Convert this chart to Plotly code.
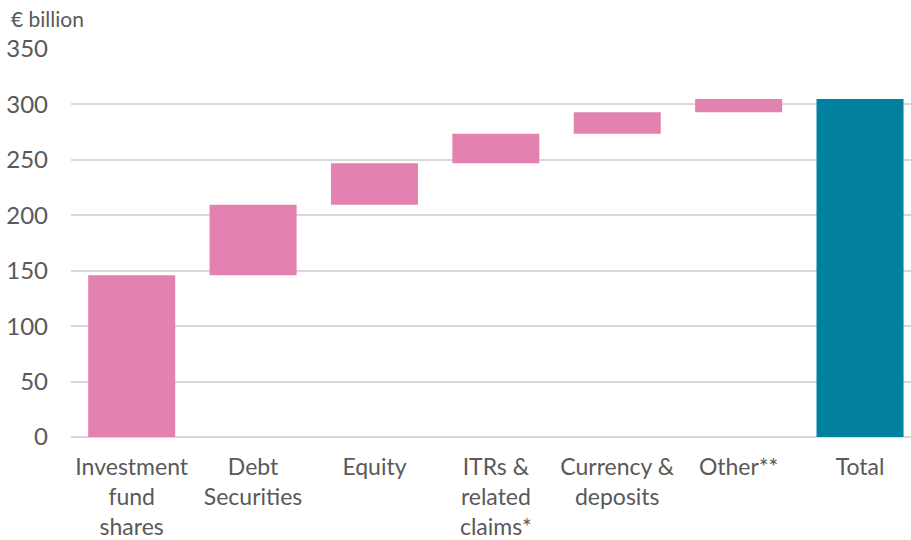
import plotly.graph_objects as go

# Contributions by instrument (€ billion) and the resulting total
categories = [
    "Investment<br>fund<br>shares",
    "Debt<br>Securities",
    "Equity",
    "ITRs &<br>related<br>claims*",
    "Currency &<br>deposits",
    "Other**",
    "Total",
]
contributions = [146.0, 63.5, 37.5, 26.5, 19.5, 12.0]
total_value = 305.0

measures = ["relative"] * len(contributions) + ["total"]
values = contributions + [total_value]

PINK = "#E382B0"
TEAL = "#02809F"
TEXT = "#595959"
GRID = "#D9D9D9"

fig = go.Figure(
    go.Waterfall(
        x=categories,
        y=values,
        measure=measures,
        increasing=dict(marker=dict(color=PINK, line=dict(width=0))),
        decreasing=dict(marker=dict(color=PINK, line=dict(width=0))),
        totals=dict(marker=dict(color=TEAL, line=dict(width=0))),
        connector=dict(visible=False),
        showlegend=False,
    )
)

fig.update_layout(
    width=911,
    height=540,
    margin=dict(l=71, r=0, t=49, b=103),
    plot_bgcolor="white",
    paper_bgcolor="white",
    font=dict(family="Lato", color=TEXT, size=23),
    waterfallgap=0.283,
    xaxis=dict(
        type="category",
        range=[-0.5, 6.42],
        showgrid=False,
        showline=False,
        zeroline=False,
        ticks="",
        ticklabelstandoff=14,
        tickfont=dict(size=23, color=TEXT),
    ),
    yaxis=dict(
        range=[0, 350],
        tickvals=[0, 50, 100, 150, 200, 250, 300, 350],
        showgrid=True,
        gridcolor=GRID,
        gridwidth=2,
        zeroline=True,
        zerolinecolor=GRID,
        zerolinewidth=2,
        showline=False,
        ticks="",
        ticklabelstandoff=22,
        tickfont=dict(size=24, color=TEXT),
    ),
    annotations=[
        dict(
            text="€ billion",
            xref="paper",
            yref="paper",
            x=0,
            y=1,
            xshift=-62,
            yshift=31,
            xanchor="left",
            yanchor="middle",
            showarrow=False,
            font=dict(size=21, color=TEXT, family="Lato"),
        )
    ],
)

fig.write_html("out.html")
